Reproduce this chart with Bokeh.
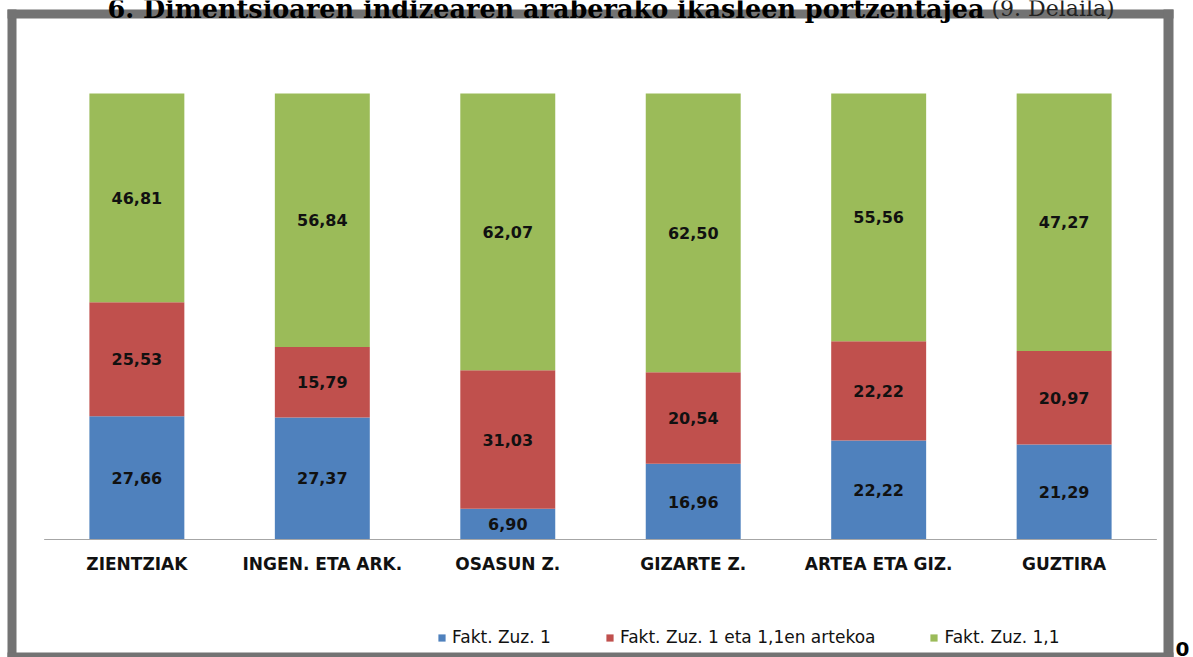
from bokeh.plotting import figure
from bokeh.models import ColumnDataSource, FactorRange, Range1d, Legend, LegendItem
from bokeh.core.properties import value
from bokeh.embed import file_html
from bokeh.resources import INLINE

# ---------------- data ----------------
categories = ["ZIENTZIAK", "INGEN. ETA ARK.", "OSASUN Z.", "GIZARTE Z.", "ARTEA ETA GIZ.", "GUZTIRA"]
fakt_1 = [27.66, 27.37, 6.90, 16.96, 22.22, 21.29]
fakt_1_11 = [25.53, 15.79, 31.03, 20.54, 22.22, 20.97]
fakt_11 = [46.81, 56.84, 62.07, 62.50, 55.56, 57.74]   # heights as drawn
labels_1 = ["27,66", "27,37", "6,90", "16,96", "22,22", "21,29"]
labels_1_11 = ["25,53", "15,79", "31,03", "20,54", "22,22", "20,97"]
labels_11 = ["46,81", "56,84", "62,07", "62,50", "55,56", "47,27"]
series_names = ["Fakt. Zuz. 1", "Fakt. Zuz. 1 eta 1,1en artekoa", "Fakt. Zuz. 1,1"]
series_colors = ["#4F81BD", "#C0504D", "#9BBB59"]
title_main = "6. Dimentsioaren indizearen araberako ikasleen portzentajea"
title_note = "(9. Delaila)"
page_number = "0"

# ---------------- layout constants (pixels, from figure top-left) ----------------
W, H = 1193, 657
FRAME_L = 7
FRAME_W = W - FRAME_L
PAD = 0.1976
UNIT_X = FRAME_W / (len(categories) + 2 * PAD)
BASE_PX, TOP_PX = 539, 93
UNIT_Y = (BASE_PX - TOP_PX) / 100.0
Y0 = -(H - BASE_PX) / UNIT_Y
Y1 = 100 + TOP_PX / UNIT_Y
GRAY = "#737373"


def sx(px):   # x pixel -> synthetic categorical coordinate
    return (px - FRAME_L) / UNIT_X - PAD


def sy(px):   # y pixel -> data y
    return (BASE_PX - px) / UNIT_Y


p = figure(width=W, height=H, output_backend="svg", toolbar_location=None,
           x_range=FactorRange(factors=categories, range_padding=PAD, range_padding_units="absolute"),
           y_range=Range1d(Y0, Y1), x_axis_location=None, y_axis_location=None,
           min_border=0, min_border_left=FRAME_L, border_fill_color="white",
           background_fill_color="white", outline_line_color=None)
p.grid.grid_line_color = None

# gray frame round the chart
p.quad(left=[sx(-10), sx(-10), sx(1163), sx(-10)],
       right=[sx(16), sx(1173), sx(1173), sx(1173)],
       bottom=[sy(700), sy(18), sy(700), sy(700)],
       top=[sy(9), sy(9), sy(9), sy(652)],
       fill_color=GRAY, line_color=None)

source = ColumnDataSource(dict(cats=categories, s1=fakt_1, s2=fakt_1_11, s3=fakt_11))
rends = p.vbar_stack(["s1", "s2", "s3"], x="cats", width=0.512, color=series_colors,
                     line_color=None, source=source)

# data labels in the middle of each segment
lx, ly, lt = [], [], []
for i, c in enumerate(categories):
    b, r, g = fakt_1[i], fakt_1_11[i], fakt_11[i]
    for mid, lab in ((b / 2, labels_1[i]), (b + r / 2, labels_1_11[i]), (b + r + g / 2, labels_11[i])):
        lx.append(c); ly.append(mid); lt.append(lab)
p.text(x=lx, y=ly, text=lt, text_align="center", text_baseline="middle",
       text_font=value("DejaVu Sans"), text_font_style="bold", text_font_size="16px",
       text_color="#111111")

# category axis line and labels
p.segment(x0=[0], x1=[len(categories)], y0=[0], y1=[0], line_color="#a6a6a6", line_width=1.2)
p.text(x=categories, y=[0] * len(categories), text=categories, y_offset=24,
       text_align="center", text_baseline="middle",
       text_font=value("DejaVu Sans"), text_font_style="bold", text_font_size="17px",
       text_color="#111111")

# document title above the frame (only its lower part is visible)
p.text(x=[sx(107)], y=[sy(8)], text=[title_main], text_align="left", text_baseline="alphabetic",
       text_font=value("DejaVu Serif"), text_font_style="bold", text_font_size="25.5px",
       text_color="#000000")
p.text(x=[sx(991)], y=[sy(8)], text=[title_note], text_align="left", text_baseline="alphabetic",
       text_font=value("DejaVu Serif"), text_font_size="22px", text_color="#222222")

# page number, cut at the bottom
p.text(x=[sx(1175)], y=[sy(641)], text=[page_number], text_align="left", text_baseline="top",
       text_font=value("DejaVu Sans"), text_font_style="bold", text_font_size="20px",
       text_color="#000000")

legend = Legend(items=[LegendItem(label=n, renderers=[r]) for n, r in zip(series_names, rends)],
                location=(437 - FRAME_L, 10), orientation="horizontal",
                glyph_width=9, glyph_height=9, label_standoff=6, spacing=54,
                label_text_font="DejaVu Sans", label_text_font_size="17px",
                label_text_color="#111111", label_height=18,
                padding=0, margin=0, border_line_color=None, background_fill_alpha=0)
p.add_layout(legend)

open("out.html", "w").write(file_html(p, INLINE))
